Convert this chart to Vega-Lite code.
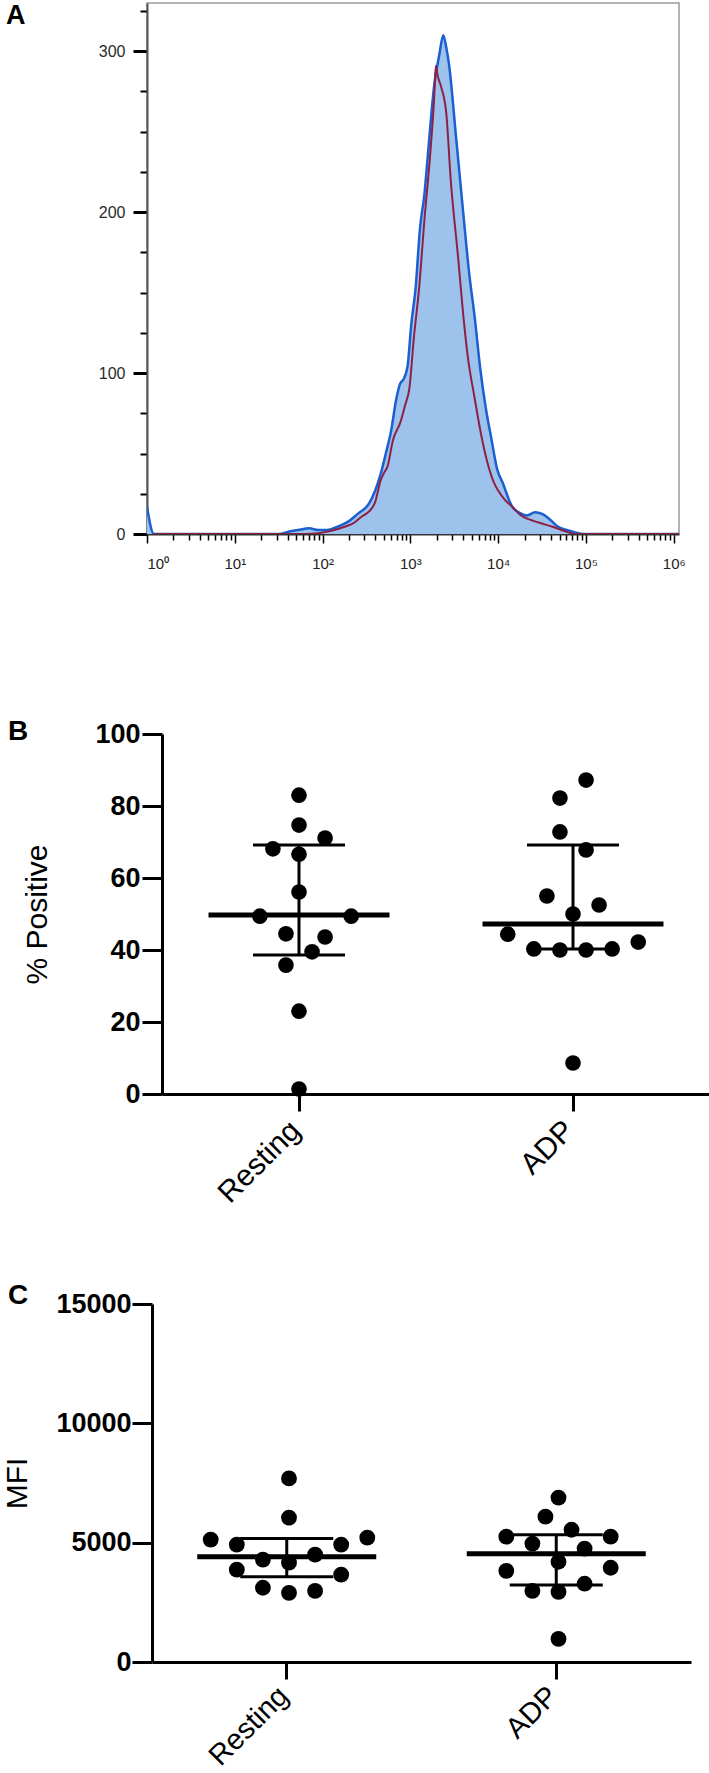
{
  "$schema": "https://vega.github.io/schema/vega-lite/v6.json",
  "background": "white",
  "padding": {"left": 2, "top": 1, "right": 0, "bottom": 0},
  "bounds": "flush",
  "spacing": 200,
  "config": {
    "font": "Liberation Sans",
    "view": {"stroke": null},
    "axis": {"grid": false, "domainColor": "black", "tickColor": "black", "labelColor": "black", "titleColor": "black"}
  },
  "datasets": {
    "histogram": [
      {"sample": "blue", "fluorescence": 1, "count": 17},
      {"sample": "blue", "fluorescence": 1.2, "count": 0},
      {"sample": "blue", "fluorescence": 31.6, "count": 0},
      {"sample": "blue", "fluorescence": 41.7, "count": 1.5},
      {"sample": "blue", "fluorescence": 52.5, "count": 2.5},
      {"sample": "blue", "fluorescence": 70.8, "count": 3.5},
      {"sample": "blue", "fluorescence": 89.1, "count": 2.5},
      {"sample": "blue", "fluorescence": 112, "count": 2.5},
      {"sample": "blue", "fluorescence": 155, "count": 5},
      {"sample": "blue", "fluorescence": 200, "count": 8},
      {"sample": "blue", "fluorescence": 251, "count": 12.5},
      {"sample": "blue", "fluorescence": 339, "count": 19},
      {"sample": "blue", "fluorescence": 398, "count": 27},
      {"sample": "blue", "fluorescence": 457, "count": 37},
      {"sample": "blue", "fluorescence": 525, "count": 50},
      {"sample": "blue", "fluorescence": 603, "count": 64},
      {"sample": "blue", "fluorescence": 692, "count": 84},
      {"sample": "blue", "fluorescence": 759, "count": 93},
      {"sample": "blue", "fluorescence": 851, "count": 97},
      {"sample": "blue", "fluorescence": 933, "count": 105},
      {"sample": "blue", "fluorescence": 1023, "count": 130},
      {"sample": "blue", "fluorescence": 1148, "count": 153},
      {"sample": "blue", "fluorescence": 1288, "count": 190},
      {"sample": "blue", "fluorescence": 1445, "count": 211},
      {"sample": "blue", "fluorescence": 1585, "count": 236},
      {"sample": "blue", "fluorescence": 1862, "count": 278},
      {"sample": "blue", "fluorescence": 2138, "count": 298},
      {"sample": "blue", "fluorescence": 2371, "count": 310},
      {"sample": "blue", "fluorescence": 2570, "count": 302},
      {"sample": "blue", "fluorescence": 2754, "count": 292},
      {"sample": "blue", "fluorescence": 3311, "count": 247},
      {"sample": "blue", "fluorescence": 4074, "count": 195},
      {"sample": "blue", "fluorescence": 4677, "count": 162},
      {"sample": "blue", "fluorescence": 5370, "count": 136},
      {"sample": "blue", "fluorescence": 6310, "count": 101},
      {"sample": "blue", "fluorescence": 7244, "count": 78},
      {"sample": "blue", "fluorescence": 8318, "count": 60},
      {"sample": "blue", "fluorescence": 9772, "count": 40},
      {"sample": "blue", "fluorescence": 11220, "count": 32},
      {"sample": "blue", "fluorescence": 14454, "count": 17},
      {"sample": "blue", "fluorescence": 17783, "count": 13},
      {"sample": "blue", "fluorescence": 21380, "count": 11.5},
      {"sample": "blue", "fluorescence": 26303, "count": 13.5},
      {"sample": "blue", "fluorescence": 31623, "count": 12.5},
      {"sample": "blue", "fluorescence": 37154, "count": 10},
      {"sample": "blue", "fluorescence": 46774, "count": 5},
      {"sample": "blue", "fluorescence": 60256, "count": 2.5},
      {"sample": "blue", "fluorescence": 75858, "count": 1},
      {"sample": "blue", "fluorescence": 93325, "count": 0},
      {"sample": "blue", "fluorescence": 1148154, "count": 0},
      {"sample": "red", "fluorescence": 1.2, "count": 0},
      {"sample": "red", "fluorescence": 63.1, "count": 0},
      {"sample": "red", "fluorescence": 89.1, "count": 0.5},
      {"sample": "red", "fluorescence": 126, "count": 2},
      {"sample": "red", "fluorescence": 178, "count": 4.5},
      {"sample": "red", "fluorescence": 229, "count": 7},
      {"sample": "red", "fluorescence": 282, "count": 11},
      {"sample": "red", "fluorescence": 339, "count": 14},
      {"sample": "red", "fluorescence": 398, "count": 20},
      {"sample": "red", "fluorescence": 457, "count": 33},
      {"sample": "red", "fluorescence": 501, "count": 38},
      {"sample": "red", "fluorescence": 550, "count": 42},
      {"sample": "red", "fluorescence": 631, "count": 58},
      {"sample": "red", "fluorescence": 776, "count": 70},
      {"sample": "red", "fluorescence": 871, "count": 80},
      {"sample": "red", "fluorescence": 977, "count": 91},
      {"sample": "red", "fluorescence": 1096, "count": 122},
      {"sample": "red", "fluorescence": 1259, "count": 153},
      {"sample": "red", "fluorescence": 1445, "count": 195},
      {"sample": "red", "fluorescence": 1660, "count": 232},
      {"sample": "red", "fluorescence": 1862, "count": 270},
      {"sample": "red", "fluorescence": 1950, "count": 291},
      {"sample": "red", "fluorescence": 2042, "count": 285},
      {"sample": "red", "fluorescence": 2239, "count": 278},
      {"sample": "red", "fluorescence": 2570, "count": 261},
      {"sample": "red", "fluorescence": 2884, "count": 220},
      {"sample": "red", "fluorescence": 3467, "count": 174},
      {"sample": "red", "fluorescence": 4074, "count": 132},
      {"sample": "red", "fluorescence": 4467, "count": 112},
      {"sample": "red", "fluorescence": 5370, "count": 85},
      {"sample": "red", "fluorescence": 6607, "count": 58},
      {"sample": "red", "fluorescence": 7762, "count": 42},
      {"sample": "red", "fluorescence": 9120, "count": 31},
      {"sample": "red", "fluorescence": 10000, "count": 27},
      {"sample": "red", "fluorescence": 12023, "count": 21},
      {"sample": "red", "fluorescence": 14454, "count": 17},
      {"sample": "red", "fluorescence": 17783, "count": 12},
      {"sample": "red", "fluorescence": 21380, "count": 9.5},
      {"sample": "red", "fluorescence": 25704, "count": 8},
      {"sample": "red", "fluorescence": 31623, "count": 6.5},
      {"sample": "red", "fluorescence": 41687, "count": 4.5},
      {"sample": "red", "fluorescence": 52481, "count": 2.5},
      {"sample": "red", "fluorescence": 63096, "count": 1},
      {"sample": "red", "fluorescence": 74131, "count": 0},
      {"sample": "red", "fluorescence": 1148154, "count": 0}
    ],
    "pct": [
      {"group": "Resting", "value": 83.0, "jitter": 0},
      {"group": "Resting", "value": 74.7, "jitter": 0},
      {"group": "Resting", "value": 71.1, "jitter": 2},
      {"group": "Resting", "value": 68.1, "jitter": -2},
      {"group": "Resting", "value": 66.6, "jitter": 0},
      {"group": "Resting", "value": 56.1, "jitter": 0},
      {"group": "Resting", "value": 49.4, "jitter": -3},
      {"group": "Resting", "value": 49.4, "jitter": 4},
      {"group": "Resting", "value": 44.5, "jitter": -1},
      {"group": "Resting", "value": 43.6, "jitter": 2},
      {"group": "Resting", "value": 39.5, "jitter": 1},
      {"group": "Resting", "value": 35.8, "jitter": -1},
      {"group": "Resting", "value": 23.0, "jitter": 0},
      {"group": "Resting", "value": 1.4, "jitter": 0},
      {"group": "ADP", "value": 87.2, "jitter": 1},
      {"group": "ADP", "value": 82.2, "jitter": -1},
      {"group": "ADP", "value": 72.8, "jitter": -1},
      {"group": "ADP", "value": 67.8, "jitter": 1},
      {"group": "ADP", "value": 55.0, "jitter": -2},
      {"group": "ADP", "value": 52.5, "jitter": 2},
      {"group": "ADP", "value": 50.0, "jitter": 0},
      {"group": "ADP", "value": 44.4, "jitter": -5},
      {"group": "ADP", "value": 40.3, "jitter": -3},
      {"group": "ADP", "value": 40.0, "jitter": -1},
      {"group": "ADP", "value": 40.0, "jitter": 1},
      {"group": "ADP", "value": 40.3, "jitter": 3},
      {"group": "ADP", "value": 42.2, "jitter": 5},
      {"group": "ADP", "value": 8.6, "jitter": 0}
    ],
    "pct_stats": [
      {"group": "Resting", "median": 49.7, "lower": 38.6, "upper": 69.2},
      {"group": "ADP", "median": 47.2, "lower": 40.3, "upper": 69.2}
    ],
    "mfi": [
      {"group": "Resting", "value": 7690, "jitter": 0},
      {"group": "Resting", "value": 6050, "jitter": 0},
      {"group": "Resting", "value": 5130, "jitter": -6},
      {"group": "Resting", "value": 5210, "jitter": 6},
      {"group": "Resting", "value": 4920, "jitter": -4},
      {"group": "Resting", "value": 4920, "jitter": 4},
      {"group": "Resting", "value": 4290, "jitter": -2},
      {"group": "Resting", "value": 4500, "jitter": 2},
      {"group": "Resting", "value": 4160, "jitter": 0},
      {"group": "Resting", "value": 3870, "jitter": -4},
      {"group": "Resting", "value": 3660, "jitter": 4},
      {"group": "Resting", "value": 3110, "jitter": -2},
      {"group": "Resting", "value": 2980, "jitter": 2},
      {"group": "Resting", "value": 2900, "jitter": 0},
      {"group": "ADP", "value": 6890, "jitter": 0},
      {"group": "ADP", "value": 6090, "jitter": -1},
      {"group": "ADP", "value": 5540, "jitter": 1},
      {"group": "ADP", "value": 5250, "jitter": -4},
      {"group": "ADP", "value": 5250, "jitter": 4},
      {"group": "ADP", "value": 4960, "jitter": -2},
      {"group": "ADP", "value": 4750, "jitter": 2},
      {"group": "ADP", "value": 4200, "jitter": 0},
      {"group": "ADP", "value": 3820, "jitter": -4},
      {"group": "ADP", "value": 3950, "jitter": 4},
      {"group": "ADP", "value": 3280, "jitter": 2},
      {"group": "ADP", "value": 2980, "jitter": -2},
      {"group": "ADP", "value": 2940, "jitter": 0},
      {"group": "ADP", "value": 970, "jitter": 0}
    ],
    "mfi_stats": [
      {"group": "Resting", "median": 4410, "lower": 3570, "upper": 5170},
      {"group": "ADP", "median": 4540, "lower": 3230, "upper": 5330}
    ]
  },
  "vconcat": [
    {
      "width": 532,
      "height": 531,
      "view": {"stroke": "#9a9a9a", "strokeWidth": 1.5},
      "title": {"text": "A", "orient": "top", "anchor": "start", "frame": "group", "offset": 0, "baseline": "top", "dx": -141, "dy": 27, "fontSize": 27, "fontWeight": "bold", "color": "black"},
      "data": {"name": "histogram"},
      "encoding": {
        "x": {
          "field": "fluorescence", "type": "quantitative",
          "scale": {"type": "log", "domain": [1, 1148154], "nice": false},
          "axis": {
            "title": null,
            "values": [1,2,3,4,5,6,7,8,9,10,20,30,40,50,60,70,80,90,100,200,300,400,500,600,700,800,900,1000,2000,3000,4000,5000,6000,7000,8000,9000,10000,20000,30000,40000,50000,60000,70000,80000,90000,100000,200000,300000,400000,500000,600000,700000,800000,900000,1000000],
            "labelExpr": "datum.value == 1 ? '10⁰' : datum.value == 10 ? '10¹' : datum.value == 100 ? '10²' : datum.value == 1000 ? '10³' : datum.value == 10000 ? '10⁴' : datum.value == 100000 ? '10⁵' : datum.value == 1000000 ? '10⁶' : ''",
            "tickSize": {"condition": {"test": "indexof([1,10,100,1000,10000,100000,1000000], datum.value) >= 0", "value": 9}, "value": 6},
            "tickWidth": 1.5,
            "labelFontSize": 15,
            "labelColor": "#222222",
            "labelPadding": 13,
            "labelOverlap": false,
            "domainColor": "#333333",
            "domainWidth": 2
          }
        },
        "y": {
          "field": "count", "type": "quantitative",
          "scale": {"domain": [0, 330], "nice": false},
          "axis": {
            "title": null,
            "values": [0,25,50,75,100,125,150,175,200,225,250,275,300,325],
            "labelExpr": "datum.value % 100 === 0 ? datum.label : ''",
            "tickSize": {"condition": {"test": "datum.value % 100 === 0", "value": 14}, "value": 7},
            "tickWidth": {"condition": {"test": "datum.value % 100 === 0", "value": 3}, "value": 2},
            "labelFontSize": 16,
            "labelColor": "#2a2a2a",
            "labelPadding": 8,
            "domainColor": "#555555",
            "domainWidth": 2
          }
        }
      },
      "layer": [
        {"transform": [{"filter": "datum.sample == 'blue'"}], "mark": {"type": "area", "color": "#9dc3ed", "opacity": 1, "interpolate": "monotone", "clip": true}},
        {"transform": [{"filter": "datum.sample == 'blue'"}], "mark": {"type": "line", "color": "#1b5fd0", "strokeWidth": 2.5, "interpolate": "monotone", "clip": true}},
        {"transform": [{"filter": "datum.sample == 'red'"}], "mark": {"type": "line", "color": "#8e1f45", "strokeWidth": 2, "interpolate": "monotone", "clip": true}}
      ]
    },
    {
      "width": 563,
      "height": 370,
      "title": {"text": "B", "orient": "top", "anchor": "start", "frame": "group", "offset": 0, "baseline": "top", "dx": -139, "dy": 26, "fontSize": 28, "fontWeight": "bold", "color": "black"},
      "encoding": {
        "x": {
          "field": "group", "type": "nominal", "sort": ["Resting", "ADP"],
          "scale": {"paddingInner": 0, "paddingOuter": 0, "rangeMin": 15},
          "axis": {"title": null, "labelAngle": -45, "labelFontSize": 30, "labelOffset": -14, "tickSize": 17, "tickWidth": 3, "domainWidth": 3, "offset": -10, "labelPadding": 4}
        }
      },
      "layer": [
        {
          "data": {"name": "pct_stats"},
          "mark": {"type": "rule", "strokeWidth": 3, "color": "black"},
          "encoding": {
            "y": {
              "field": "lower", "type": "quantitative",
              "scale": {"domain": [0, 100], "nice": false, "rangeMin": 360},
              "axis": {"title": "% Positive", "titleFontSize": 30, "titleFontWeight": "normal", "titlePadding": 42, "values": [0,20,40,60,80,100], "labelFontSize": 27, "labelFontWeight": "bold", "tickSize": 20, "tickWidth": 3, "domainWidth": 3, "labelPadding": 2, "offset": -15}
            },
            "y2": {"field": "upper"}
          }
        },
        {
          "data": {"name": "pct_stats"},
          "mark": {"type": "tick", "thickness": 3, "size": 92, "color": "black", "opacity": 1},
          "encoding": {"y": {"field": "upper", "type": "quantitative"}}
        },
        {
          "data": {"name": "pct_stats"},
          "mark": {"type": "tick", "thickness": 3, "size": 92, "color": "black", "opacity": 1},
          "encoding": {"y": {"field": "lower", "type": "quantitative"}}
        },
        {
          "data": {"name": "pct_stats"},
          "mark": {"type": "tick", "thickness": 5, "size": 181, "color": "black", "opacity": 1},
          "encoding": {"y": {"field": "median", "type": "quantitative"}}
        },
        {
          "data": {"name": "pct"},
          "mark": {"type": "circle", "size": 245, "color": "black", "opacity": 1},
          "encoding": {
            "xOffset": {"field": "jitter", "type": "quantitative", "scale": {"domain": [-10.5, 10.5], "range": [0, 274]}},
            "y": {"field": "value", "type": "quantitative"}
          }
        }
      ]
    },
    {
      "width": 544,
      "height": 358,
      "title": {"text": "C", "orient": "top", "anchor": "start", "frame": "group", "offset": 0, "baseline": "top", "dx": -139, "dy": 20, "fontSize": 28, "fontWeight": "bold", "color": "black"},
      "encoding": {
        "x": {
          "field": "group", "type": "nominal", "sort": ["Resting", "ADP"],
          "scale": {"paddingInner": 0, "paddingOuter": 0, "rangeMin": 5},
          "axis": {"title": null, "labelAngle": -45, "labelFontSize": 29, "labelOffset": -13, "tickSize": 17, "tickWidth": 3, "domainWidth": 3, "labelPadding": 2}
        }
      },
      "layer": [
        {
          "data": {"name": "mfi_stats"},
          "mark": {"type": "rule", "strokeWidth": 3, "color": "black"},
          "encoding": {
            "y": {
              "field": "lower", "type": "quantitative",
              "scale": {"domain": [0, 15000], "nice": false},
              "axis": {"title": "MFI", "titleFontSize": 30, "titleFontWeight": "normal", "titlePadding": 23, "values": [0,5000,10000,15000], "format": "d", "labelFontSize": 27, "labelFontWeight": "bold", "tickSize": 20, "tickWidth": 3, "domainWidth": 3, "labelPadding": 1, "offset": -5}
            },
            "y2": {"field": "upper"}
          }
        },
        {
          "data": {"name": "mfi_stats"},
          "mark": {"type": "tick", "thickness": 3, "size": 93, "color": "black", "opacity": 1},
          "encoding": {"y": {"field": "upper", "type": "quantitative"}}
        },
        {
          "data": {"name": "mfi_stats"},
          "mark": {"type": "tick", "thickness": 3, "size": 93, "color": "black", "opacity": 1},
          "encoding": {"y": {"field": "lower", "type": "quantitative"}}
        },
        {
          "data": {"name": "mfi_stats"},
          "mark": {"type": "tick", "thickness": 5, "size": 179, "color": "black", "opacity": 1},
          "encoding": {"y": {"field": "median", "type": "quantitative"}}
        },
        {
          "data": {"name": "mfi"},
          "mark": {"type": "circle", "size": 250, "color": "black", "opacity": 1},
          "encoding": {
            "xOffset": {"field": "jitter", "type": "quantitative", "scale": {"domain": [-10.5, 10.5], "range": [0, 269.5]}},
            "y": {"field": "value", "type": "quantitative"}
          }
        }
      ]
    }
  ]
}
